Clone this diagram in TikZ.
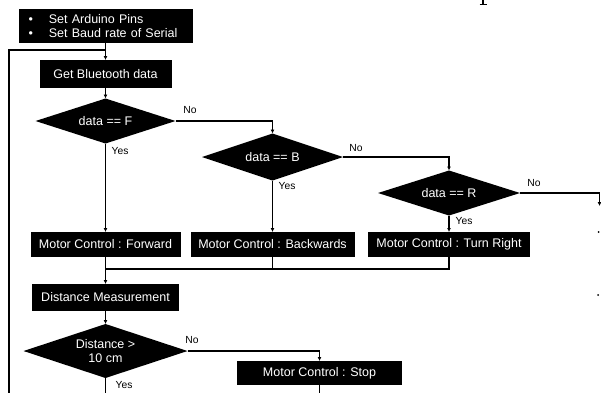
\documentclass[tikz,border=0pt]{standalone}
\usepackage{fontspec}
\setmainfont{Liberation Sans}
\usetikzlibrary{shapes.geometric,arrows.meta}
\begin{document}
\begin{tikzpicture}[x=1pt,y=-1pt,
  box/.style={fill=black,text=white,inner sep=0pt,outer sep=0pt,font=\fontsize{12.5}{14.3}\selectfont},
  dec/.style={diamond,fill=black,text=white,inner sep=0pt,outer sep=0pt,aspect=3,font=\fontsize{12.5}{14.8}\selectfont,align=center},
  lbl/.style={font=\fontsize{10.3}{12}\selectfont,inner sep=0pt},
  conn/.style={line width=1.3pt},
  arr/.style={conn,-{Latex[length=4pt,width=4pt]}}]
\useasboundingbox (0,0) rectangle (601,392);
\clip (0,0) rectangle (601,392);

% nodes
\node[box,minimum width=174pt,minimum height=34pt,text width=154pt,align=left] (init) at (105.5,26)
  {\textbullet\hspace{16pt}Set Arduino Pins\\\textbullet\hspace{16pt}Set Baud rate of Serial};
\node[box,minimum width=132pt,minimum height=28pt] (gbt) at (105.5,74) {Get Bluetooth data};
\node[dec,minimum width=140pt,minimum height=45pt] (dF) at (105.5,121) {data == F};
\node[dec,minimum width=141pt,minimum height=47pt] (dB) at (272.5,157) {data == B};
\node[dec,minimum width=142pt,minimum height=45pt] (dR) at (449,193) {data == R};
\node[box,minimum width=150pt,minimum height=25pt] (fwd) at (105.5,244.5) {Motor Control : Forward};
\node[box,minimum width=164pt,minimum height=25pt] (bwd) at (272.5,244.5) {Motor Control : Backwards};
\node[box,minimum width=162pt,minimum height=25pt] (tr) at (449,244.5) {Motor Control : Turn Right};
\node[box,minimum width=147pt,minimum height=27pt] (dm) at (105.5,297.5) {Distance Measurement};
\node[dec,minimum width=164pt,minimum height=54pt] (dD) at (105.5,351) {Distance \textgreater\\10 cm};
\node[box,minimum width=165pt,minimum height=24pt] (stop) at (319.5,373) {Motor Control : Stop};

% labels
\node[lbl] (nF) at (190,110) {No};
\node[lbl] (yF) at (120,151) {Yes};
\node[lbl] (nB) at (356,148) {No};
\node[lbl] (yB) at (287,186) {Yes};
\node[lbl] (nR) at (534,183) {No};
\node[lbl] (yR) at (464,221) {Yes};
\node[lbl] (nD) at (192,340) {No};
\node[lbl] (yD) at (124,385) {Yes};

% coordinates
\coordinate (J) at (105.5,50);
\coordinate (L) at (9,50);
\coordinate (Lb) at (9,395);
\coordinate (Rend) at (599.5,206);
\coordinate (M) at (105.5,269);
\coordinate (Db) at (105.5,395);
\coordinate (Sb) at (319.5,395);

% connectors
\draw[conn] (Lb) -- (L) -- (J);
\draw[arr] (init.south) -- (gbt.north);
\draw[arr] (gbt.south) -- (dF.north);
\draw[arr] (dF.east) -| (dB.north);
\draw[arr] (dF.south) -- (fwd.north);
\draw[arr] (dB.east) -| (dR.north);
\draw[arr] (dB.south) -- (bwd.north);
\draw[arr] (dR.east) -| (Rend);
\draw[arr] (dR.south) -- (tr.north);
\draw[arr] (fwd.south) -- (dm.north);
\draw[conn] (bwd.south) |- (M);
\draw[conn] (tr.south) |- (M);
\draw[arr] (dm.south) -- (dD.north);
\draw[arr] (dD.east) -| (stop.north);
\draw[conn] (dD.south) -- (Db);
\draw[conn] (stop.south) -- (Sb);

% fragments at the edges (cut-off glyph and dots)
\draw[line width=1.6pt] (483,-1) -- (483,4.5);
\draw[line width=1.2pt] (479.5,4.8) -- (486.5,4.8);
\fill (598.5,232) circle (1pt);
\fill (598,295) circle (1pt);
\end{tikzpicture}
\end{document}
